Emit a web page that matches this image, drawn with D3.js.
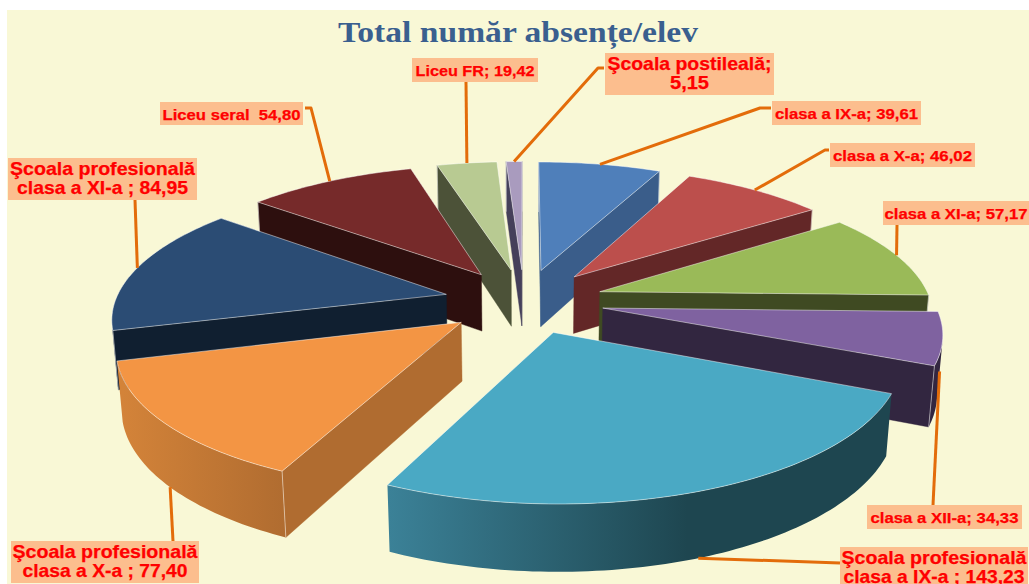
<!DOCTYPE html>
<html lang="ro"><head><meta charset="utf-8">
<script src="https://cdn.jsdelivr.net/npm/d3@7"></script>
<style>html,body{margin:0;padding:0;background:#fff}svg{display:block}</style>
</head><body><svg id="c" width="1029" height="584"></svg>
<script>
// ---- data ----
const categories = ["clasa a IX-a","clasa a X-a","clasa a XI-a","clasa a XII-a","Şcoala profesională clasa a IX-a","Şcoala profesională clasa a X-a","Şcoala profesională clasa a XI-a","Liceu seral","Liceu FR","Şcoala postileală"];
const values = [39.61,46.02,57.17,34.33,143.23,77.40,84.95,54.80,19.42,5.15];
const titleText = "Total număr absențe/elev";
const labelLines = [
  ["clasa a IX-a; 39,61"],["clasa a X-a; 46,02"],["clasa a XI-a; 57,17"],["clasa a XII-a; 34,33"],
  ["Şcoala profesională","clasa a IX-a ; 143,23"],["Şcoala profesională","clasa a X-a ; 77,40"],
  ["Şcoala profesională","clasa a XI-a ; 84,95"],["Liceu seral  54,80"],["Liceu FR; 19,42"],["Şcoala postileală;","5,15"]];
// ---- styles ----
const topColors  = ["#4F7FBA","#BC4F4C","#9ABA58","#7F62A0","#4AA9C4","#F39544","#2B4C74","#762A2A","#B8CA92","#A99BBE"];
const wallColors = ["#3A5D8A","#632727","#3F4A22","#322640","#1E4650","#B06C30","#101F30","#2D0F0E","#4C5238","#45405A"];
const arcWallStops = {4:[["0","#3B8197"],["0.6","#1E4650"],["1","#1E4650"]],5:[["0","#D38339"],["1","#B06C30"]]};
// ---- label layout: box x0,x1,y0,y1, text widths, leader start points, anchor height fraction ----
const labelBoxes = [[772,921,101,125],[830,975,143,167],[883,1029,201,225],[867,1022,505,529],[840,1028,547,584],[11,199,541,583],[8,197,158,200],[160,303,102,125],[412,538,58,82],[605,774,53,95]];
const labelWidths = [[143],[139],[143],[148],[185,181],[185,165],[185,171],[138],[119],[164,39]];
const leaderStarts = [[[771,108],[760,108]],[[829,150],[825,150]],[[897,225]],[[933,505]],[[840,563]],[[173,541]],[[135,200]],[[305,108],[311,108]],[[466,82]],[[604,68],[598,68]]];
const anchorDrop = [0,0,0,0.55,1,1,0,0,0,0];

// ---- 3D geometry ----
const cx=524, cy=301, R=331, H=64, E=80, D=1950, sinT=0.405, cosT=Math.sqrt(1-sinT*sinT);
function proj(x,y,z){const d=y*cosT-z*sinT,s=D/(D+d);return [cx+x*s,cy-(y*sinT+z*cosT)*s];}
const arcs=d3.pie().sort(null)(values);
const slices=arcs.map((a,i)=>{
  const mid=(a.startAngle+a.endAngle)/2;
  const ox=E*Math.sin(mid), oy=E*Math.cos(mid);
  const n=Math.max(4,Math.ceil((a.endAngle-a.startAngle)/0.02));
  const angs=d3.range(n+1).map(k=>a.startAngle+(a.endAngle-a.startAngle)*k/n);
  const rim=z=>angs.map(t=>proj(ox+R*Math.sin(t),oy+R*Math.cos(t),z));
  return {i,mid,ox,oy,apexT:proj(ox,oy,0),apexB:proj(ox,oy,-H),rimT:rim(0),rimB:rim(-H)};
});
const svg=d3.select("#c");
const defs=svg.append("defs");
svg.append("rect").attr("x",7).attr("y",10).attr("width",1022).attr("height",574).attr("fill","#F9F8D6");
svg.append("text").attr("x",518).attr("y",42).attr("text-anchor","middle")
  .attr("font-family","'Liberation Serif',serif").attr("font-weight","bold").attr("font-size",30)
  .attr("textLength",360).attr("lengthAdjust","spacingAndGlyphs").attr("fill","#3A5F8F").text(titleText);

const line=d3.line().curve(d3.curveLinear);
const closed=p=>line(p)+"Z";
const area=p=>d3.polygonArea(p);
const order=slices.slice().sort((a,b)=>d3.descending(Math.cos(a.mid),Math.cos(b.mid)));
function face(g,pts,fill,stroked){
  const p=g.append("path").attr("d",closed(pts)).attr("fill",fill);
  if(stroked){p.attr("stroke","#fff").attr("stroke-opacity",0.6).attr("stroke-width",0.8).attr("stroke-linejoin","round");}
  else{p.attr("stroke",fill).attr("stroke-width",0.4);}
}
const g=svg.append("g");
order.forEach(s=>{
  const sl=g.append("g");
  const last=s.rimT.length-1;
  // radial walls (skip those facing away from the viewer)
  const w1=[s.apexT,s.rimT[0],s.rimB[0],s.apexB];
  const w2=[s.rimT[last],s.apexT,s.apexB,s.rimB[last]];
  if(area(w1)>0) face(sl,w1,wallColors[s.i],false);
  if(area(w2)>0) face(sl,w2,wallColors[s.i],false);
  // outer wall: contiguous viewer-facing stretch of the rim as one polygon
  let fill=wallColors[s.i];
  const xs=s.rimB.map(p=>p[0]);
  if(arcWallStops[s.i]){
    const id="w"+s.i;
    const lg=defs.append("linearGradient").attr("id",id).attr("gradientUnits","userSpaceOnUse")
      .attr("x1",d3.min(xs)).attr("x2",d3.max(xs)).attr("y1",0).attr("y2",0);
    arcWallStops[s.i].forEach(st=>lg.append("stop").attr("offset",st[0]).attr("stop-color",st[1]));
    fill=`url(#${id})`;
  }
  const vis=d3.range(last).filter(k=>area([s.rimT[k],s.rimT[k+1],s.rimB[k+1],s.rimB[k]])>0);
  if(vis.length){
    const a=vis[0],b=vis[vis.length-1]+1;
    const top=s.rimT.slice(a,b+1), bot=s.rimB.slice(a,b+1).reverse();
    sl.append("path").attr("d",closed([...top,...bot])).attr("fill",fill);
  }
  // light vertical edges
  [[s.rimT[0],s.rimB[0]],[s.rimT[last],s.rimB[last]]].forEach((e,idx)=>{
    const wall=idx===0?w1:w2;
    if(area(wall)>0) sl.append("path").attr("d",line(e)).attr("stroke","#fff").attr("stroke-opacity",0.6).attr("stroke-width",0.8).attr("fill","none");
  });
  // top face
  face(sl,[s.apexT,...s.rimT],topColors[s.i],true);
});

// leaders
const leaders=svg.append("g");
slices.forEach(s=>{
  const a=proj(s.ox+R*Math.sin(s.mid),s.oy+R*Math.cos(s.mid),-H*anchorDrop[s.i]);
  leaders.append("path").attr("d",line([...leaderStarts[s.i],a])).attr("fill","none")
    .attr("stroke","#E36C0A").attr("stroke-width",3).attr("stroke-linejoin","round");
});
// labels
const labs=svg.append("g").attr("font-family","'Liberation Sans',Arial,sans-serif").attr("font-weight","bold").attr("fill","#FF0000");
categories.forEach((c,i)=>{
  const [x0,x1,y0,y1]=labelBoxes[i];
  labs.append("rect").attr("x",x0).attr("y",y0).attr("width",x1-x0).attr("height",y1-y0).attr("fill","#FCBE8E");
  const two=labelLines[i].length>1;
  const fs=two?18.5:15.5;
  labelLines[i].forEach((t,k)=>{
    labs.append("text").attr("x",(x0+x1)/2).attr("y",two?y0+17+k*19:y0+(y1-y0)/2+6)
      .attr("text-anchor","middle").attr("font-size",fs)
      .attr("stroke","#FF0000").attr("stroke-width",0.25)
      .attr("textLength",labelWidths[i][k]).attr("lengthAdjust","spacingAndGlyphs")
      .style("white-space","pre").text(t);
  });
});
</script></body></html>
